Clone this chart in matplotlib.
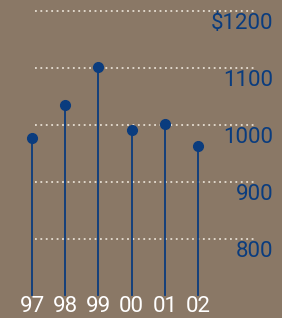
import matplotlib
matplotlib.use("Agg")
import matplotlib.pyplot as plt

years = ["97", "98", "99", "00", "01", "02"]
values = [978, 1035, 1101, 992, 1001, 963]
grid_values = [800, 900, 1000, 1100, 1200]
grid_labels = ["800", "900", "1000", "1100", "$1200"]

BG = "#8A7866"
NAVY = "#0A3C7E"
GRID = "#E6DED2"

fig = plt.figure(figsize=(2.82, 3.18), dpi=100)
fig.patch.set_facecolor(BG)
ax = fig.add_axes([0, 0, 1, 1])
ax.set_facecolor(BG)
ax.set_xlim(-0.964, 7.53)
ax.set_ylim(661.4, 1219.3)
ax.axis("off")

font = "Roboto"
for gv, gl in zip(grid_values, grid_labels):
    ax.axhline(gv, xmin=35/282, xmax=255/282, color=GRID, lw=1.3,
               linestyle=(0, (1, 2)), zorder=1)
    ax.text(7.26, gv - 22, gl, ha="right", va="center", color=NAVY,
            fontsize=16, family=font)

base = 702
for i, (yr, v) in enumerate(zip(years, values)):
    ax.plot([i, i], [base, v], color=NAVY, lw=1.3, zorder=2)
    ax.plot(i, v, "o", color=NAVY, markersize=7, zorder=3)
    ax.text(i, 681, yr, ha="center", va="center", color="white",
            fontsize=16, family=font)

fig.savefig("out.png", dpi=100, facecolor=BG)
